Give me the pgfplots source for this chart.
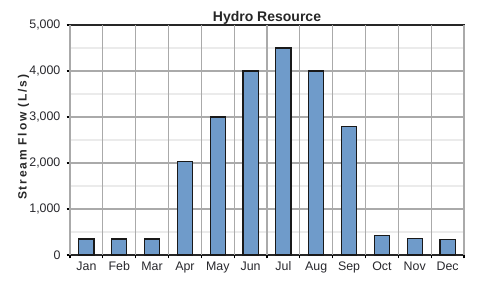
\documentclass[border=0pt]{standalone}
\usepackage{pgfplots}
\pgfplotsset{compat=1.18}
\usepackage{fontspec}
\setmainfont{Liberation Sans}
\definecolor{barfill}{RGB}{111,155,202}
\definecolor{gridmaj}{RGB}{170,170,170}
\definecolor{gridmin}{RGB}{235,235,235}
\definecolor{lbl}{RGB}{40,40,45}
\begin{document}
\begin{tikzpicture}
\path[use as bounding box] (0,0) rectangle (360pt,215.25pt);
\begin{axis}[
  at={(52.5pt,24pt)}, anchor=south west,
  scale only axis, width=295.5pt, height=172.5pt,
  ybar, bar width=0.46,
  xmin=-0.5, xmax=11.5, ymin=0, ymax=5000,
  xtick={0,...,11},
  xticklabels={Jan,Feb,Mar,Apr,May,Jun,Jul,Aug,Sep,Oct,Nov,Dec},
  xtick style={draw=none},
  extra x ticks={-0.5,0.5,...,11.5},
  extra x tick labels={},
  extra x tick style={grid=major, xtick style={draw=black, line width=0.8pt}, major x grid style={gridmaj, line width=0.9pt}},
  ytick={0,1000,...,5000},
  minor y tick num=1,
  ymajorgrids, yminorgrids,
  major y grid style={gridmaj, line width=0.9pt},
  minor y grid style={gridmin, line width=0.8pt},
  minor tick length=0pt,
  major tick length=2.5pt,
  tick align=outside, tick pos=left,
  ytick style={draw=black, line width=0.8pt},
  axis line style={draw=black!85, line width=0.9pt},
  scaled y ticks=false,
  /pgf/number format/.cd, 1000 sep={,}, assume math mode=true,
  /pgfplots/.cd,
  ticklabel style={font=\fontsize{9.3}{10}\selectfont, text=lbl},
  yticklabel style={inner sep=0pt, anchor=east, xshift=-4.5pt},
  xticklabel style={inner sep=0pt, anchor=base, yshift=-9pt},
  every axis title shift=0pt,
  title={Hydro Resource},
  title style={font=\bfseries\fontsize{10.5}{12}\selectfont, inner sep=0pt, anchor=base, at={(0.5,1)}, yshift=3pt, text=black!85},
  clip=false,
]
\addplot[fill=barfill, draw=black!90, line width=0.9pt] coordinates {
(0,350) (1,350) (2,350) (3,2030) (4,3000) (5,4000) (6,4500) (7,4000) (8,2800) (9,420) (10,360) (11,330)};
\node[xshift=-32.5pt, yshift=2pt, rotate=90, font=\bfseries\fontsize{9}{10}\selectfont\addfontfeatures{LetterSpace=15}, text=black!85, anchor=base, inner sep=0pt] at (rel axis cs:0,0.5) {Stream Flow (L/s)};
\end{axis}
\end{tikzpicture}
\end{document}
